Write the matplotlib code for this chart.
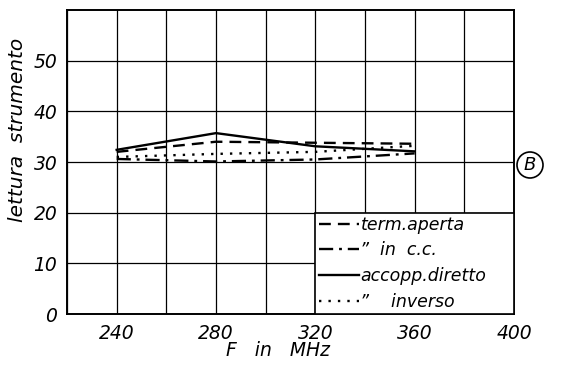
import matplotlib
matplotlib.use("Agg")
import matplotlib.pyplot as plt
from matplotlib.patches import Rectangle, Ellipse

# Frequencies (MHz) and instrument readings for each measurement condition
freq = [240, 280, 320, 360]
term_aperta = [32.0, 34.0, 33.8, 33.6]
in_cc = [30.6, 30.1, 30.5, 31.7]
accopp_diretto = [32.4, 35.7, 33.1, 32.1]
accopp_inverso = [31.0, 31.6, 32.0, 33.2]

labels = ["term.aperta", "\u201d  in  c.c.", "accopp.diretto", "\u201d    inverso"]

x_ticks = [240, 280, 320, 360, 400]
y_ticks = [0, 10, 20, 30, 40, 50]

plt.rcParams["font.family"] = ["DejaVu Sans"]
plt.rcParams["font.style"] = "italic"

fig = plt.figure(figsize=(5.75, 3.71), dpi=100)
ax = fig.add_axes([67 / 575, 57 / 371, 447 / 575, 304 / 371])

ax.set_xlim(220, 400)
ax.set_ylim(0, 60)

# square grid every 20 MHz / 10 units
ax.set_xticks(range(220, 401, 20))
ax.set_xticklabels([str(v) if v in x_ticks else "" for v in range(220, 401, 20)])
ax.set_yticks(y_ticks)
ax.set_yticklabels([str(v) for v in y_ticks])
ax.grid(True, color="black", linewidth=0.9)
ax.tick_params(length=0, labelsize=13.5, pad=7)
for lab in ax.get_xticklabels() + ax.get_yticklabels():
    lab.set_fontstyle("italic")
for sp in ax.spines.values():
    sp.set_linewidth(1.4)

lw = 1.7
l1, = ax.plot(freq, term_aperta, color="black", lw=lw, ls=(0, (5, 3)))
l2, = ax.plot(freq, in_cc, color="black", lw=lw, ls=(0, (6, 2.5, 1.2, 2.5)))
l3, = ax.plot(freq, accopp_diretto, color="black", lw=lw, ls="-")
l4, = ax.plot(freq, accopp_inverso, color="black", lw=lw, ls=(0, (1, 3)))

# white panel holding the key in the lower right grid cells
ax.add_patch(Rectangle((320, 0), 80, 20, facecolor="white", edgecolor="black",
                       lw=1.2, zorder=3))
leg = ax.legend([l1, l2, l3, l4], labels, loc="center left",
                bbox_to_anchor=(320, 0, 80, 20), bbox_transform=ax.transData,
                frameon=False, handlelength=2.3, handletextpad=0.1,
                labelspacing=0.45, borderaxespad=0.0, borderpad=0.2,
                prop={"size": 12.5, "style": "italic"})
leg.set_zorder(4)

ax.set_xlabel("F   in   MHz", fontsize=13.5, fontstyle="italic")
ax.xaxis.set_label_coords((278 - 67) / 447, -(351 - 314) / 304)
ax.xaxis.label.set_va("center")
ax.set_ylabel("lettura  strumento", fontsize=14.5, fontstyle="italic")
ax.yaxis.set_label_coords((18 - 67) / 447, (314 - 130) / 304)
ax.yaxis.label.set_va("center")

# circled panel letter
cx, cy = 530 / 575, 1 - 165 / 371
fig.patches.append(Ellipse((cx, cy), 26 / 575, 26 / 371,
                           transform=fig.transFigure, fill=False,
                           edgecolor="black", lw=1.2))
fig.text(cx, cy, "B", ha="center", va="center",
         fontsize=13, fontstyle="italic")

fig.savefig("out.png", dpi=100)
